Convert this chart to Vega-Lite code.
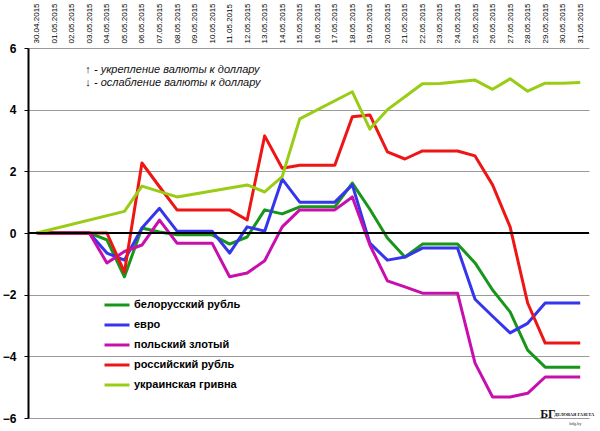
{
  "$schema": "https://vega.github.io/schema/vega-lite/v6.json",
  "description": "Изменение курсов валют к доллару, май 2015",
  "width": 561,
  "height": 370,
  "autosize": "none",
  "padding": {"left": 28, "top": 48, "right": 11, "bottom": 13},
  "background": "white",
  "config": {
    "view": {"stroke": null},
    "font": "Liberation Sans"
  },
  "datasets": {
    "fx": [
      {"date": "30.04.2015", "currency": "белорусский рубль", "value": 0},
      {"date": "01.05.2015", "currency": "белорусский рубль", "value": 0},
      {"date": "02.05.2015", "currency": "белорусский рубль", "value": 0},
      {"date": "03.05.2015", "currency": "белорусский рубль", "value": 0},
      {"date": "04.05.2015", "currency": "белорусский рубль", "value": -0.22},
      {"date": "05.05.2015", "currency": "белорусский рубль", "value": -1.42},
      {"date": "06.05.2015", "currency": "белорусский рубль", "value": 0.16},
      {"date": "07.05.2015", "currency": "белорусский рубль", "value": 0.03},
      {"date": "08.05.2015", "currency": "белорусский рубль", "value": -0.06},
      {"date": "09.05.2015", "currency": "белорусский рубль", "value": -0.06},
      {"date": "10.05.2015", "currency": "белорусский рубль", "value": -0.06},
      {"date": "11.05.2015", "currency": "белорусский рубль", "value": -0.36},
      {"date": "12.05.2015", "currency": "белорусский рубль", "value": -0.13},
      {"date": "13.05.2015", "currency": "белорусский рубль", "value": 0.75},
      {"date": "14.05.2015", "currency": "белорусский рубль", "value": 0.62},
      {"date": "15.05.2015", "currency": "белорусский рубль", "value": 0.85},
      {"date": "16.05.2015", "currency": "белорусский рубль", "value": 0.85},
      {"date": "17.05.2015", "currency": "белорусский рубль", "value": 0.85},
      {"date": "18.05.2015", "currency": "белорусский рубль", "value": 1.62},
      {"date": "19.05.2015", "currency": "белорусский рубль", "value": 0.77},
      {"date": "20.05.2015", "currency": "белорусский рубль", "value": -0.16},
      {"date": "21.05.2015", "currency": "белорусский рубль", "value": -0.78},
      {"date": "22.05.2015", "currency": "белорусский рубль", "value": -0.36},
      {"date": "23.05.2015", "currency": "белорусский рубль", "value": -0.36},
      {"date": "24.05.2015", "currency": "белорусский рубль", "value": -0.36},
      {"date": "25.05.2015", "currency": "белорусский рубль", "value": -0.97},
      {"date": "26.05.2015", "currency": "белорусский рубль", "value": -1.85},
      {"date": "27.05.2015", "currency": "белорусский рубль", "value": -2.56},
      {"date": "28.05.2015", "currency": "белорусский рубль", "value": -3.8},
      {"date": "29.05.2015", "currency": "белорусский рубль", "value": -4.35},
      {"date": "30.05.2015", "currency": "белорусский рубль", "value": -4.35},
      {"date": "31.05.2015", "currency": "белорусский рубль", "value": -4.35},

      {"date": "30.04.2015", "currency": "евро", "value": 0},
      {"date": "01.05.2015", "currency": "евро", "value": 0},
      {"date": "02.05.2015", "currency": "евро", "value": 0},
      {"date": "03.05.2015", "currency": "евро", "value": 0},
      {"date": "04.05.2015", "currency": "евро", "value": -0.65},
      {"date": "05.05.2015", "currency": "евро", "value": -0.88},
      {"date": "06.05.2015", "currency": "евро", "value": 0.16},
      {"date": "07.05.2015", "currency": "евро", "value": 0.8},
      {"date": "08.05.2015", "currency": "евро", "value": 0.06},
      {"date": "09.05.2015", "currency": "евро", "value": 0.06},
      {"date": "10.05.2015", "currency": "евро", "value": 0.06},
      {"date": "11.05.2015", "currency": "евро", "value": -0.65},
      {"date": "12.05.2015", "currency": "евро", "value": 0.2},
      {"date": "13.05.2015", "currency": "евро", "value": 0.06},
      {"date": "14.05.2015", "currency": "евро", "value": 1.75},
      {"date": "15.05.2015", "currency": "евро", "value": 1.0},
      {"date": "16.05.2015", "currency": "евро", "value": 1.0},
      {"date": "17.05.2015", "currency": "евро", "value": 1.0},
      {"date": "18.05.2015", "currency": "евро", "value": 1.56},
      {"date": "19.05.2015", "currency": "евро", "value": -0.33},
      {"date": "20.05.2015", "currency": "евро", "value": -0.88},
      {"date": "21.05.2015", "currency": "евро", "value": -0.78},
      {"date": "22.05.2015", "currency": "евро", "value": -0.49},
      {"date": "23.05.2015", "currency": "евро", "value": -0.49},
      {"date": "24.05.2015", "currency": "евро", "value": -0.49},
      {"date": "25.05.2015", "currency": "евро", "value": -2.15},
      {"date": "26.05.2015", "currency": "евро", "value": -2.7},
      {"date": "27.05.2015", "currency": "евро", "value": -3.24},
      {"date": "28.05.2015", "currency": "евро", "value": -2.93},
      {"date": "29.05.2015", "currency": "евро", "value": -2.27},
      {"date": "30.05.2015", "currency": "евро", "value": -2.27},
      {"date": "31.05.2015", "currency": "евро", "value": -2.27},

      {"date": "30.04.2015", "currency": "польский злотый", "value": 0},
      {"date": "01.05.2015", "currency": "польский злотый", "value": 0},
      {"date": "02.05.2015", "currency": "польский злотый", "value": 0},
      {"date": "03.05.2015", "currency": "польский злотый", "value": 0},
      {"date": "04.05.2015", "currency": "польский злотый", "value": -0.97},
      {"date": "05.05.2015", "currency": "польский злотый", "value": -0.6},
      {"date": "06.05.2015", "currency": "польский злотый", "value": -0.39},
      {"date": "07.05.2015", "currency": "польский злотый", "value": 0.42},
      {"date": "08.05.2015", "currency": "польский злотый", "value": -0.33},
      {"date": "09.05.2015", "currency": "польский злотый", "value": -0.33},
      {"date": "10.05.2015", "currency": "польский злотый", "value": -0.33},
      {"date": "11.05.2015", "currency": "польский злотый", "value": -1.42},
      {"date": "12.05.2015", "currency": "польский злотый", "value": -1.3},
      {"date": "13.05.2015", "currency": "польский злотый", "value": -0.9},
      {"date": "14.05.2015", "currency": "польский злотый", "value": 0.2},
      {"date": "15.05.2015", "currency": "польский злотый", "value": 0.75},
      {"date": "16.05.2015", "currency": "польский злотый", "value": 0.75},
      {"date": "17.05.2015", "currency": "польский злотый", "value": 0.75},
      {"date": "18.05.2015", "currency": "польский злотый", "value": 1.17},
      {"date": "19.05.2015", "currency": "польский злотый", "value": -0.39},
      {"date": "20.05.2015", "currency": "польский злотый", "value": -1.55},
      {"date": "21.05.2015", "currency": "польский злотый", "value": -1.75},
      {"date": "22.05.2015", "currency": "польский злотый", "value": -1.95},
      {"date": "23.05.2015", "currency": "польский злотый", "value": -1.95},
      {"date": "24.05.2015", "currency": "польский злотый", "value": -1.95},
      {"date": "25.05.2015", "currency": "польский злотый", "value": -4.22},
      {"date": "26.05.2015", "currency": "польский злотый", "value": -5.32},
      {"date": "27.05.2015", "currency": "польский злотый", "value": -5.32},
      {"date": "28.05.2015", "currency": "польский злотый", "value": -5.2},
      {"date": "29.05.2015", "currency": "польский злотый", "value": -4.67},
      {"date": "30.05.2015", "currency": "польский злотый", "value": -4.67},
      {"date": "31.05.2015", "currency": "польский злотый", "value": -4.67},

      {"date": "30.04.2015", "currency": "российский рубль", "value": 0},
      {"date": "01.05.2015", "currency": "российский рубль", "value": 0},
      {"date": "02.05.2015", "currency": "российский рубль", "value": 0},
      {"date": "03.05.2015", "currency": "российский рубль", "value": 0},
      {"date": "04.05.2015", "currency": "российский рубль", "value": 0},
      {"date": "05.05.2015", "currency": "российский рубль", "value": -1.27},
      {"date": "06.05.2015", "currency": "российский рубль", "value": 2.27},
      {"date": "07.05.2015", "currency": "российский рубль", "value": 1.5},
      {"date": "08.05.2015", "currency": "российский рубль", "value": 0.75},
      {"date": "09.05.2015", "currency": "российский рубль", "value": 0.75},
      {"date": "10.05.2015", "currency": "российский рубль", "value": 0.75},
      {"date": "11.05.2015", "currency": "российский рубль", "value": 0.75},
      {"date": "12.05.2015", "currency": "российский рубль", "value": 0.42},
      {"date": "13.05.2015", "currency": "российский рубль", "value": 3.15},
      {"date": "14.05.2015", "currency": "российский рубль", "value": 2.1},
      {"date": "15.05.2015", "currency": "российский рубль", "value": 2.2},
      {"date": "16.05.2015", "currency": "российский рубль", "value": 2.2},
      {"date": "17.05.2015", "currency": "российский рубль", "value": 2.2},
      {"date": "18.05.2015", "currency": "российский рубль", "value": 3.77},
      {"date": "19.05.2015", "currency": "российский рубль", "value": 3.83},
      {"date": "20.05.2015", "currency": "российский рубль", "value": 2.63},
      {"date": "21.05.2015", "currency": "российский рубль", "value": 2.4},
      {"date": "22.05.2015", "currency": "российский рубль", "value": 2.66},
      {"date": "23.05.2015", "currency": "российский рубль", "value": 2.66},
      {"date": "24.05.2015", "currency": "российский рубль", "value": 2.66},
      {"date": "25.05.2015", "currency": "российский рубль", "value": 2.5},
      {"date": "26.05.2015", "currency": "российский рубль", "value": 1.56},
      {"date": "27.05.2015", "currency": "российский рубль", "value": 0.2},
      {"date": "28.05.2015", "currency": "российский рубль", "value": -2.27},
      {"date": "29.05.2015", "currency": "российский рубль", "value": -3.57},
      {"date": "30.05.2015", "currency": "российский рубль", "value": -3.57},
      {"date": "31.05.2015", "currency": "российский рубль", "value": -3.57},

      {"date": "30.04.2015", "currency": "украинская гривна", "value": 0},
      {"date": "05.05.2015", "currency": "украинская гривна", "value": 0.7},
      {"date": "06.05.2015", "currency": "украинская гривна", "value": 1.52},
      {"date": "08.05.2015", "currency": "украинская гривна", "value": 1.17},
      {"date": "12.05.2015", "currency": "украинская гривна", "value": 1.56},
      {"date": "13.05.2015", "currency": "украинская гривна", "value": 1.33},
      {"date": "14.05.2015", "currency": "украинская гривна", "value": 1.83},
      {"date": "15.05.2015", "currency": "украинская гривна", "value": 3.7},
      {"date": "18.05.2015", "currency": "украинская гривна", "value": 4.58},
      {"date": "19.05.2015", "currency": "украинская гривна", "value": 3.37},
      {"date": "20.05.2015", "currency": "украинская гривна", "value": 4.0},
      {"date": "21.05.2015", "currency": "украинская гривна", "value": 4.42},
      {"date": "22.05.2015", "currency": "украинская гривна", "value": 4.84},
      {"date": "23.05.2015", "currency": "украинская гривна", "value": 4.85},
      {"date": "25.05.2015", "currency": "украинская гривна", "value": 4.96},
      {"date": "26.05.2015", "currency": "украинская гривна", "value": 4.66},
      {"date": "27.05.2015", "currency": "украинская гривна", "value": 5.0},
      {"date": "28.05.2015", "currency": "украинская гривна", "value": 4.6},
      {"date": "29.05.2015", "currency": "украинская гривна", "value": 4.86},
      {"date": "30.05.2015", "currency": "украинская гривна", "value": 4.86},
      {"date": "31.05.2015", "currency": "украинская гривна", "value": 4.88}
    ]
  },
  "layer": [
    {
      "data": {"name": "fx"},
      "mark": {"type": "line", "strokeWidth": 3, "strokeJoin": "round", "zindex": 2},
      "encoding": {
        "x": {
          "field": "date",
          "type": "ordinal",
          "scale": {
            "type": "point",
            "padding": 0.5,
            "domain": ["30.04.2015", "01.05.2015", "02.05.2015", "03.05.2015", "04.05.2015", "05.05.2015", "06.05.2015", "07.05.2015", "08.05.2015", "09.05.2015", "10.05.2015", "11.05.2015", "12.05.2015", "13.05.2015", "14.05.2015", "15.05.2015", "16.05.2015", "17.05.2015", "18.05.2015", "19.05.2015", "20.05.2015", "21.05.2015", "22.05.2015", "23.05.2015", "24.05.2015", "25.05.2015", "26.05.2015", "27.05.2015", "28.05.2015", "29.05.2015", "30.05.2015", "31.05.2015"]
          },
          "axis": {
            "orient": "top",
            "title": null,
            "domain": false,
            "ticks": false,
            "grid": false,
            "labelAngle": 270,
            "labelAlign": "left",
            "labelBaseline": "middle",
            "labelPadding": 5,
            "labelFontSize": 8,
            "labelColor": "black",
            "labelOverlap": false
          }
        },
        "y": {
          "field": "value",
          "type": "quantitative",
          "scale": {"domain": [-6, 6], "nice": false},
          "axis": {
            "title": null,
            "values": [-6, -4, -2, 0, 2, 4, 6],
            "grid": true,
            "gridColor": "#9a9a9a",
            "gridWidth": 1,
            "domainColor": "black",
            "domainWidth": 2,
            "tickColor": "black",
            "tickSize": 4,
            "tickWidth": 1,
            "labelPadding": 8,
            "labelFontSize": 12,
            "labelFontWeight": "bold",
            "labelColor": "black"
          }
        },
        "color": {
          "field": "currency",
          "type": "nominal",
          "scale": {
            "domain": ["белорусский рубль", "евро", "польский злотый", "российский рубль", "украинская гривна"],
            "range": ["#17961a", "#3535ec", "#c80fae", "#ee1515", "#99cc14"]
          },
          "legend": {
            "orient": "none",
            "legendX": 75,
            "legendY": 243,
            "title": null,
            "padding": 0,
            "symbolType": "stroke",
            "symbolSize": 625,
            "symbolStrokeWidth": 3,
            "labelFontSize": 11,
            "labelFontWeight": "bold",
            "labelColor": "black",
            "labelOffset": 3,
            "rowPadding": -4
          }
        }
      }
    },
    {
      "data": {"values": [{}]},
      "mark": {"type": "rule", "color": "black", "strokeWidth": 2, "zindex": 1},
      "encoding": {"y": {"datum": 0, "type": "quantitative"}}
    },
    {
      "data": {"values": [{}]},
      "mark": {"type": "text", "text": "↑ - укрепление валюты к доллару", "align": "left", "baseline": "middle", "fontSize": 11, "fontStyle": "italic", "color": "#111111", "dx": -4},
      "encoding": {
        "x": {"datum": "03.05.2015", "type": "ordinal"},
        "y": {"datum": 5.29, "type": "quantitative"}
      }
    },
    {
      "data": {"values": [{}]},
      "mark": {"type": "text", "text": "↓ - ослабление валюты к доллару", "align": "left", "baseline": "middle", "fontSize": 11, "fontStyle": "italic", "color": "#111111", "dx": -4},
      "encoding": {
        "x": {"datum": "03.05.2015", "type": "ordinal"},
        "y": {"datum": 4.87, "type": "quantitative"}
      }
    },
    {
      "data": {"values": [{}]},
      "mark": {"type": "text", "text": "БГ", "align": "left", "baseline": "alphabetic", "font": "Liberation Serif", "fontSize": 12, "fontWeight": "bold", "color": "#111111", "dx": -5, "dy": 0},
      "encoding": {
        "x": {"datum": "29.05.2015", "type": "ordinal"},
        "y": {"datum": -6, "type": "quantitative"}
      }
    },
    {
      "data": {"values": [{}]},
      "mark": {"type": "text", "text": "ДЕЛОВАЯ ГАЗЕТА", "align": "left", "baseline": "alphabetic", "font": "Liberation Serif", "fontSize": 4.5, "fontWeight": "bold", "color": "#111111", "dx": 9, "dy": -2},
      "encoding": {
        "x": {"datum": "29.05.2015", "type": "ordinal"},
        "y": {"datum": -6, "type": "quantitative"}
      }
    },
    {
      "data": {"values": [{}]},
      "mark": {"type": "text", "text": "bdg.by", "align": "left", "baseline": "alphabetic", "font": "Liberation Serif", "fontSize": 4.5, "color": "#333333", "dx": 24, "dy": 7},
      "encoding": {
        "x": {"datum": "29.05.2015", "type": "ordinal"},
        "y": {"datum": -6, "type": "quantitative"}
      }
    }
  ]
}
